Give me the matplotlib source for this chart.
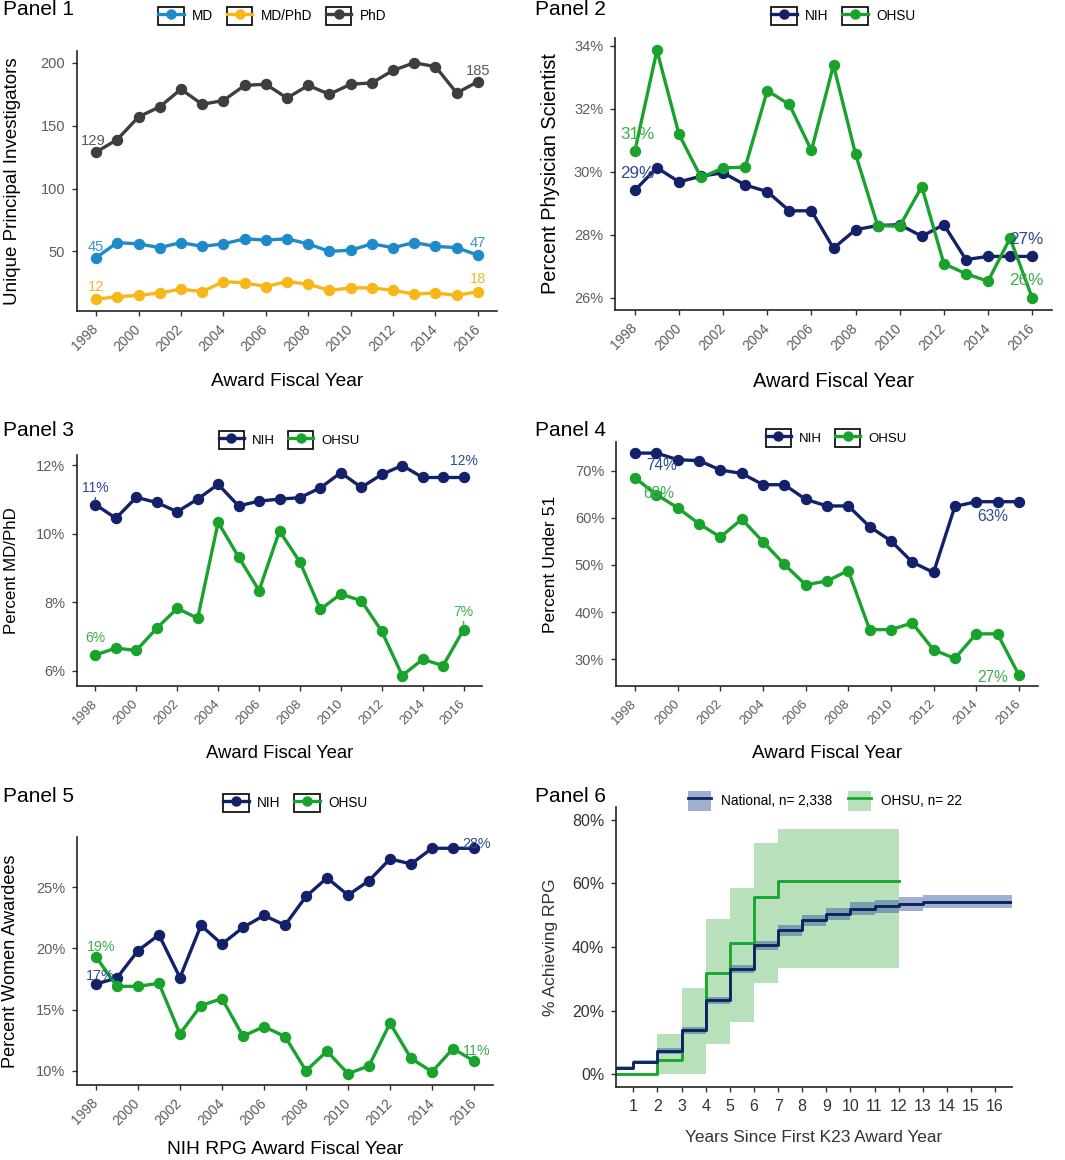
import matplotlib
matplotlib.use("Agg")
import matplotlib.pyplot as plt
from matplotlib.legend_handler import HandlerLine2D
from matplotlib.lines import Line2D
from matplotlib.patches import Patch, Rectangle
from matplotlib.ticker import PercentFormatter

plt.rcParams['font.family'] = ['Liberation Sans', 'DejaVu Sans']

# 1. Data
years = list(range(1998, 2017))

# Panel 1: unique principal investigators by degree
md = [45, 57, 56, 53, 57, 54, 56, 60, 59, 60, 56, 50, 51, 56, 53, 57, 54, 53, 47]
md_phd = [12, 14, 15, 17, 20, 18, 26, 25, 22, 26, 24, 19, 21, 21, 19, 16, 17, 15, 18]
phd = [129, 139, 157, 165, 179, 167, 170, 182, 183, 172, 182, 175, 183, 184, 194, 200, 197, 176, 185]

# Panel 2: percent physician scientist
p2_nih = [29.41, 30.13, 29.68, 29.86, 29.97, 29.58, 29.37, 28.76, 28.76, 27.57,
          28.16, 28.29, 28.32, 27.95, 28.32, 27.21, 27.31, 27.31, 27.31]
p2_ohsu = [30.66, 33.86, 31.19, 29.82, 30.12, 30.15, 32.58, 32.14, 30.68, 33.39,
           30.56, 28.29, 28.27, 29.53, 27.08, 26.76, 26.52, 27.89, 26.00]

# Panel 3: percent MD/PhD
p3_nih = [10.85, 10.45, 11.06, 10.91, 10.64, 11.01, 11.44, 10.81, 10.95, 11.01,
          11.05, 11.34, 11.78, 11.35, 11.73, 11.99, 11.64, 11.64, 11.64]
p3_ohsu = [6.46, 6.66, 6.59, 7.24, 7.82, 7.53, 10.33, 9.32, 8.34, 10.08,
           9.17, 7.79, 8.24, 8.04, 7.15, 5.86, 6.33, 6.15, 7.20]

# Panel 4: percent under 51
p4_nih = [73.7, 73.7, 72.3, 72.1, 70.1, 69.4, 67.0, 67.0, 63.9, 62.5,
          62.5, 58.1, 55.1, 50.6, 48.4, 62.4, 63.4, 63.4, 63.4]
p4_ohsu = [68.4, 64.9, 62.1, 58.7, 55.9, 59.7, 54.9, 50.1, 45.8, 46.6,
           48.8, 36.3, 36.3, 37.7, 32.0, 30.2, 35.4, 35.4, 26.7]

# Panel 5: percent women awardees
p5_nih = [17.09, 17.58, 19.81, 21.11, 17.61, 21.88, 20.35, 21.71, 22.69, 21.90,
          24.24, 25.76, 24.35, 25.54, 27.31, 26.90, 28.18, 28.18, 28.18]
p5_ohsu = [19.32, 16.90, 16.90, 17.15, 13.02, 15.33, 15.90, 12.83, 13.61, 12.80,
           10.00, 11.60, 9.76, 10.41, 13.89, 11.01, 9.92, 11.82, 10.79]

# Panel 6: cumulative % achieving RPG (step curves with confidence bands)
nat_t = [0, 1, 2, 3, 4, 5, 6, 7, 8, 9, 10, 11, 12, 13, 16.7]
nat_pct = [2.1, 3.9, 7.4, 13.8, 23.2, 33.1, 40.5, 45.2, 48.4, 50.4, 52.1, 52.8, 53.5, 54.3, 54.3]
nat_lo = [1.5, 3.2, 6.5, 12.7, 22.1, 31.8, 39.0, 43.4, 46.6, 48.5, 50.1, 50.7, 51.4, 52.1, 52.1]
nat_hi = [2.7, 4.6, 8.3, 14.9, 24.3, 34.4, 42.0, 47.0, 50.2, 52.3, 54.1, 54.9, 55.6, 56.4, 56.4]
ohsu_t = [0, 2, 3, 4, 5, 6, 7, 12]
ohsu_pct = [0, 4.6, 14.0, 31.9, 41.2, 55.7, 60.7, 60.7]
ohsu_lo = [0, 0, 0, 9.6, 16.4, 28.8, 33.4, 33.4]
ohsu_hi = [0, 12.7, 27.1, 48.9, 58.5, 72.7, 77.1, 77.1]

# 2. Colours
c_md, c_mdphd, c_phd = '#1F8AC9', '#F7B718', '#3B3F3F'
c_nih, c_ohsu = '#13216A', '#19A22C'
c_nih_txt, c_ohsu_txt = '#2C4A8E', '#3DAE4C'
tick_grey = '#5C5C5C'

W, H = 1065, 1160
fig = plt.figure(figsize=(W / 100, H / 100), dpi=100)


def add_ax(x0, y0, x1, y1):
    # pixel box -> figure fraction
    return fig.add_axes([x0 / W, 1 - y1 / H, (x1 - x0) / W, (y1 - y0) / H])


class BoxedKey(HandlerLine2D):
    # ggplot style legend key with a black border
    def create_artists(self, legend, orig_handle, xdescent, ydescent, width, height, fontsize, trans):
        arts = super().create_artists(legend, orig_handle, xdescent, ydescent, width, height, fontsize, trans)
        box = Rectangle((-xdescent, -ydescent), width, height, fill=False, ec='black', lw=1.2, transform=trans)
        return [box] + list(arts)


def style(ax, tick_size=10.5):
    for s in ['top', 'right']:
        ax.spines[s].set_visible(False)
    for s in ['left', 'bottom']:
        ax.spines[s].set_linewidth(1.2)
        ax.spines[s].set_color('#222222')
    ax.tick_params(length=3.5, width=1, color='#333333', labelcolor=tick_grey,
                   labelsize=tick_size, pad=5)


def year_axis(ax, size=10):
    ax.set_xlim(1997.1, 2016.9)
    ax.set_xticks(range(1998, 2017, 2))
    for lab in ax.get_xticklabels():
        lab.set_rotation(45)
        lab.set_ha('right')
        lab.set_va('center')
        lab.set_rotation_mode('anchor')
        lab.set_fontsize(size)
    ax.tick_params(axis='x', pad=8)


def pad_ylim(ax, series):
    lo = min(min(s) for s in series)
    hi = max(max(s) for s in series)
    d = (hi - lo) * 0.05
    ax.set_ylim(lo - d, hi + d)


def series(ax, y, color, label):
    ax.plot(years, y, color=color, lw=2.4, marker='o', ms=7.2, label=label)


def tag(ax, x, y, text, color, dx, dy, size=10.5, seg=False):
    kw = {}
    if seg:
        kw['arrowprops'] = dict(arrowstyle='-', color=color, lw=1, shrinkA=6, shrinkB=3)
    ax.annotate(text, xy=(x, y), xytext=(dx, dy), textcoords='offset points',
                ha='center', va='center', color=color, fontsize=size, **kw)


def top_legend(ax, cx, cy, ncol, size=9.8):
    leg = ax.legend(loc='center', bbox_to_anchor=(cx / W, 1 - cy / H), bbox_transform=fig.transFigure,
                    ncol=ncol, frameon=False, fontsize=size, handlelength=1.9, handleheight=1.7,
                    handletextpad=0.6, columnspacing=1.0, markerscale=0.9,
                    handler_map={Line2D: BoxedKey()})
    return leg


def panel_title(x, y, n):
    fig.text(x / W, 1 - y / H, 'Panel %d' % n, fontsize=15, ha='left', va='top')


# 3. Panel 1
ax1 = add_ax(77, 51, 497, 311)
style(ax1)
series(ax1, md, c_md, 'MD')
series(ax1, md_phd, c_mdphd, 'MD/PhD')
series(ax1, phd, c_phd, 'PhD')
year_axis(ax1)
pad_ylim(ax1, [md, md_phd, phd])
ax1.set_yticks([50, 100, 150, 200])
ax1.set_xlabel('Award Fiscal Year', fontsize=13.8, labelpad=14)
ax1.set_ylabel('Unique Principal Investigators', fontsize=13.5, labelpad=14)
tag(ax1, years[0], phd[0], '129', '#5A5A5A', -2, 8, size=10.6)
tag(ax1, years[-1], phd[-1], '185', '#5A5A5A', 0, 8, size=10.6)
tag(ax1, years[0], md[0], '45', '#3D93C9', 0, 8, size=10.6)
tag(ax1, years[-1], md[-1], '47', '#3D93C9', 0, 9, size=10.6)
tag(ax1, years[0], md_phd[0], '12', '#F2B830', 0, 9, size=10.6)
tag(ax1, years[-1], md_phd[-1], '18', '#F2B830', 0, 9, size=10.6)
top_legend(ax1, 272, 16, 3)
panel_title(3, 0, 1)

# Panel 2
ax2 = add_ax(615, 38, 1052, 310)
style(ax2)
series(ax2, p2_nih, c_nih, 'NIH')
series(ax2, p2_ohsu, c_ohsu, 'OHSU')
year_axis(ax2)
pad_ylim(ax2, [p2_nih, p2_ohsu])
ax2.set_yticks([26, 28, 30, 32, 34])
ax2.yaxis.set_major_formatter(PercentFormatter(decimals=0))
ax2.set_xlabel('Award Fiscal Year', fontsize=14.5, labelpad=14)
ax2.set_ylabel('Percent Physician Scientist', fontsize=14.3, labelpad=10)
tag(ax2, years[0], p2_ohsu[0], '31%', c_ohsu_txt, 2, 12, size=12.3, seg=True)
tag(ax2, years[0], p2_nih[0], '29%', c_nih_txt, 2, 12, size=12.3)
tag(ax2, years[-1], p2_nih[-1], '27%', c_nih_txt, -4, 12, size=12.3)
tag(ax2, years[-1], p2_ohsu[-1], '26%', c_ohsu_txt, -4, 12, size=12.3)
top_legend(ax2, 843, 16, 2)
panel_title(535, 0, 2)

# Panel 3
ax3 = add_ax(77, 455, 482, 686)
style(ax3)
series(ax3, p3_nih, c_nih, 'NIH')
series(ax3, p3_ohsu, c_ohsu, 'OHSU')
year_axis(ax3, size=9.5)
pad_ylim(ax3, [p3_nih, p3_ohsu])
ax3.set_yticks([6, 8, 10, 12])
ax3.yaxis.set_major_formatter(PercentFormatter(decimals=0))
ax3.set_xlabel('Award Fiscal Year', fontsize=13.3, labelpad=13)
ax3.set_ylabel('Percent MD/PhD', fontsize=12.2, labelpad=12)
tag(ax3, years[0], p3_nih[0], '11%', c_nih_txt, 0, 12, size=10, seg=True)
tag(ax3, years[-1], p3_nih[-1], '12%', c_nih_txt, 0, 12, size=10)
tag(ax3, years[0], p3_ohsu[0], '6%', c_ohsu_txt, 0, 12, size=10)
tag(ax3, years[-1], p3_ohsu[-1], '7%', c_ohsu_txt, 0, 13, size=10, seg=True)
top_legend(ax3, 289, 440, 2, size=9.5)
panel_title(3, 421, 3)

# Panel 4
ax4 = add_ax(616, 442, 1038, 686)
style(ax4)
series(ax4, p4_nih, c_nih, 'NIH')
series(ax4, p4_ohsu, c_ohsu, 'OHSU')
year_axis(ax4, size=9.5)
pad_ylim(ax4, [p4_nih, p4_ohsu])
ax4.set_yticks([30, 40, 50, 60, 70])
ax4.yaxis.set_major_formatter(PercentFormatter(decimals=0))
ax4.set_xlabel('Award Fiscal Year', fontsize=13.6, labelpad=13)
ax4.set_ylabel('Percent Under 51', fontsize=12.6, labelpad=12)
tag(ax4, years[0], p4_nih[0], '74%', c_nih_txt, 19, -9, size=11.2)
tag(ax4, years[0], p4_ohsu[0], '68%', c_ohsu_txt, 17, -11, size=11.2)
tag(ax4, years[-1], p4_nih[-1], '63%', c_nih_txt, -19, -11, size=11.2)
tag(ax4, years[-1], p4_ohsu[-1], '27%', c_ohsu_txt, -19, -2, size=11.2)
top_legend(ax4, 836, 438, 2, size=9.5)
panel_title(535, 421, 4)

# Panel 5
ax5 = add_ax(77, 837, 493, 1085)
style(ax5)
series(ax5, p5_nih, c_nih, 'NIH')
series(ax5, p5_ohsu, c_ohsu, 'OHSU')
year_axis(ax5)
pad_ylim(ax5, [p5_nih, p5_ohsu])
ax5.set_yticks([10, 15, 20, 25])
ax5.yaxis.set_major_formatter(PercentFormatter(decimals=0))
ax5.set_xlabel('NIH RPG Award Fiscal Year', fontsize=13.8, labelpad=9)
ax5.set_ylabel('Percent Women Awardees', fontsize=13.1, labelpad=12)
tag(ax5, years[0], p5_ohsu[0], '19%', c_ohsu_txt, 4, 7, size=10.3)
tag(ax5, years[0], p5_nih[0], '17%', c_nih_txt, 3, 6, size=10.3)
tag(ax5, years[-1], p5_nih[-1], '28%', c_nih_txt, 2, 3, size=10.3)
tag(ax5, years[-1], p5_ohsu[-1], '11%', c_ohsu_txt, 2, 7, size=10.3)
top_legend(ax5, 295, 803, 2, size=9.8)
panel_title(3, 787, 5)

# Panel 6
ax6 = add_ax(616, 807, 1012, 1087)
style(ax6, tick_size=11.5)
ax6.tick_params(labelcolor='#333333')
band_green, band_blue = '#4DB356', '#2F4F9A'
ax6.fill_between(ohsu_t, ohsu_lo, ohsu_hi, step='post', color=band_green, alpha=0.4, lw=0)
ax6.fill_between(nat_t, nat_lo, nat_hi, step='post', color=band_blue, alpha=0.45, lw=0)
ax6.step(ohsu_t, ohsu_pct, where='post', color='#18A830', lw=2.1)
ax6.step(nat_t, nat_pct, where='post', color='#0E2460', lw=2.1)
ax6.set_xlim(0.28, 16.7)
ax6.set_ylim(-4, 84)
ax6.set_xticks(range(1, 17))
ax6.set_yticks([0, 20, 40, 60, 80])
ax6.yaxis.set_major_formatter(PercentFormatter(decimals=0))
ax6.set_xlabel('Years Since First K23 Award Year', fontsize=12.4, color='#333333', labelpad=12)
ax6.set_ylabel('% Achieving RPG', fontsize=12.6, color='#333333', labelpad=10)
h_nat = (Patch(color=band_blue, alpha=0.45, lw=0), Line2D([], [], color='#0E2460', lw=2))
h_ohsu = (Patch(color=band_green, alpha=0.4, lw=0), Line2D([], [], color='#18A830', lw=2))
ax6.legend([h_nat, h_ohsu], ['National, n= 2,338', 'OHSU, n= 22'], loc='center',
           bbox_to_anchor=(825 / W, 1 - 801 / H), bbox_transform=fig.transFigure,
           ncol=2, frameon=False, fontsize=9.8, handlelength=1.7, handleheight=1.8,
           handletextpad=0.7, columnspacing=1.2)
panel_title(535, 787, 6)

fig.savefig('out.png', dpi=100)
